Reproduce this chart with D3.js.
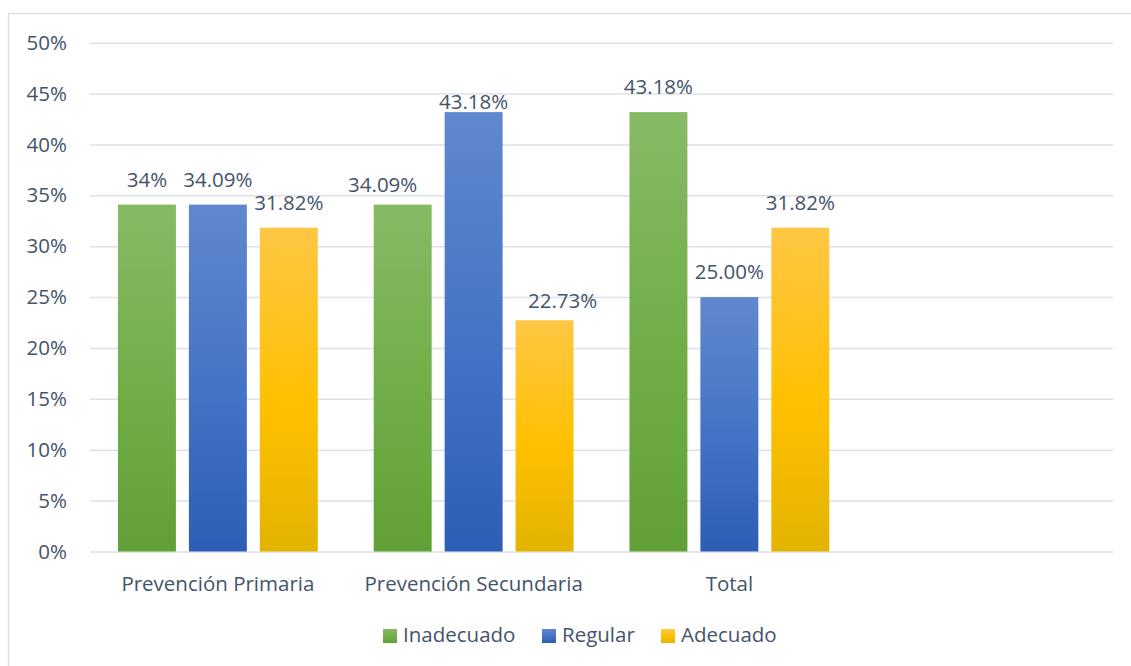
<!DOCTYPE html>
<html>
<head>
<meta charset="utf-8">
<script src="https://cdn.jsdelivr.net/npm/d3@7"></script>
<style>
  html, body { margin: 0; padding: 0; background: #ffffff; }
  svg { display: block; }
  text { font-family: "Open Sans", "Noto Sans", sans-serif; fill: #44546a; }
</style>
</head>
<body>
<svg id="chart" width="1131" height="666"></svg>
<script>
// ---- data ----
const categories = ["Prevención Primaria", "Prevención Secundaria", "Total"];
const series = ["Inadecuado", "Regular", "Adecuado"];
const inadecuado = [34.09, 34.09, 43.18];
const regular = [34.09, 43.18, 25.00];
const adecuado = [31.82, 22.73, 31.82];
const labelsInadecuado = ["34%", "34.09%", "43.18%"];
const labelsRegular = ["34.09%", "43.18%", "25.00%"];
const labelsAdecuado = ["31.82%", "22.73%", "31.82%"];
const yTicks = [0, 5, 10, 15, 20, 25, 30, 35, 40, 45, 50];

// ---- style / layout ----
const colors = {
  Inadecuado: ["#87ba65", "#70ad47", "#61a036"],
  Regular:    ["#6088cd", "#4472c4", "#2d5eb5"],
  Adecuado:   ["#ffc745", "#ffc000", "#e3b300"]
};
// manual label placement (dx, gap above bar top) as in the original
const labelNudge = {
  "Prevención Secundaria|Inadecuado": { dx: -20, gap: 13 },
  "Prevención Secundaria|Regular": { dx: 0, gap: 3 },
  "Prevención Secundaria|Adecuado": { dx: 18, gap: 12 }
};

const valuesBy = { Inadecuado: inadecuado, Regular: regular, Adecuado: adecuado };
const labelsBy = { Inadecuado: labelsInadecuado, Regular: labelsRegular, Adecuado: labelsAdecuado };

const svg = d3.select("#chart");
svg.append("rect").attr("width", 1131).attr("height", 666).attr("fill", "#ffffff");
// chart border (continues beyond the right/bottom edge of the picture)
svg.append("rect")
  .attr("x", 8.5).attr("y", 13.5).attr("width", 1200).attr("height", 700)
  .attr("fill", "none").attr("stroke", "#dadde2").attr("stroke-width", 1.3);

const plotLeft = 90, plotRight = 1113, plotTop = 42.7, plotBottom = 551.5;

const x = d3.scaleBand()
  .domain(categories.concat([" "]))
  .range([plotLeft, plotRight])
  .paddingInner(0).paddingOuter(0);

const xInner = d3.scaleBand()
  .domain(series)
  .range([0, x.bandwidth()])
  .paddingInner(0.183)
  .paddingOuter(0.394);

const y = d3.scaleLinear().domain([0, 50]).range([plotBottom, plotTop]);

// gradients
const defs = svg.append("defs");
series.forEach(s => {
  const g = defs.append("linearGradient")
    .attr("id", "grad-" + s)
    .attr("x1", 0).attr("y1", 0).attr("x2", 0).attr("y2", 1);
  g.append("stop").attr("offset", "0%").attr("stop-color", colors[s][0]);
  g.append("stop").attr("offset", "55%").attr("stop-color", colors[s][1]);
  g.append("stop").attr("offset", "100%").attr("stop-color", colors[s][2]);
});

// gridlines
const yAxis = d3.axisLeft(y).tickValues(yTicks)
  .tickSize(-(plotRight - plotLeft))
  .tickFormat(d => d + "%")
  .tickPadding(23);
const gy = svg.append("g").attr("transform", `translate(${plotLeft},0)`).call(yAxis);
gy.select(".domain").remove();
gy.selectAll(".tick line").attr("stroke", "#dde1e7").attr("stroke-width", 1.5);
gy.selectAll(".tick text")
  .style("font-size", "20.5px")
  .attr("fill", "#44546a");

// bars
const rows = [];
categories.forEach((c, i) => {
  series.forEach(s => {
    rows.push({ cat: c, series: s, value: valuesBy[s][i], label: labelsBy[s][i] });
  });
});

const bars = svg.append("g");
bars.selectAll("rect").data(rows).join("rect")
  .attr("x", d => x(d.cat) + xInner(d.series))
  .attr("y", d => y(d.value))
  .attr("width", xInner.bandwidth())
  .attr("height", d => y(0) - y(d.value))
  .attr("fill", d => `url(#grad-${d.series})`);

// data labels
svg.append("g").selectAll("text").data(rows).join("text")
  .attr("x", d => {
    const n = labelNudge[d.cat + "|" + d.series];
    return x(d.cat) + xInner(d.series) + xInner.bandwidth() / 2 + (n ? n.dx : 0);
  })
  .attr("y", d => {
    const n = labelNudge[d.cat + "|" + d.series];
    return y(d.value) - (n ? n.gap : 18);
  })
  .attr("text-anchor", "middle")
  .style("font-size", "20.5px")
  .text(d => d.label);

// category labels
svg.append("g").selectAll("text").data(categories).join("text")
  .attr("x", d => x(d) + x.bandwidth() / 2)
  .attr("y", 591)
  .attr("text-anchor", "middle")
  .style("font-size", "20.5px")
  .text(d => d);

// legend
const legendX = { Inadecuado: 383, Regular: 542, Adecuado: 661 };
const lg = svg.append("g");
series.forEach(s => {
  lg.append("rect")
    .attr("x", legendX[s]).attr("y", 629)
    .attr("width", 14).attr("height", 14)
    .attr("fill", `url(#grad-${s})`);
  lg.append("text")
    .attr("x", legendX[s] + 20).attr("y", 642)
    .style("font-size", "20.5px")
    .text(s);
});
</script>
</body>
</html>
